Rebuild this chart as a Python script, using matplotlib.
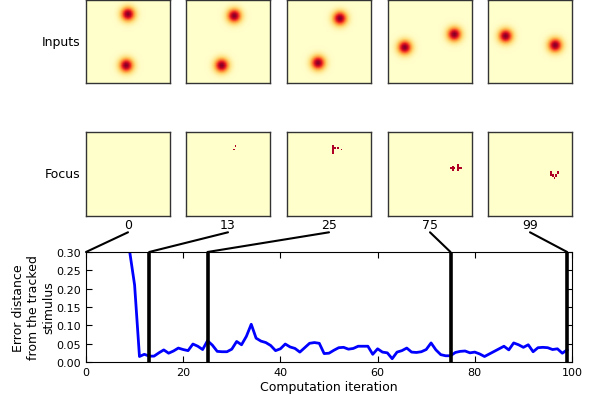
import numpy as np
import matplotlib.pyplot as plt
from matplotlib.patches import ConnectionPatch

# frames shown in the panels
frames = [0, 13, 25, 75, 99]

# blob centres (x, y) as fraction of panel, two stimuli per frame
blob_a = [(0.50, 0.18), (0.575, 0.20), (0.63, 0.23), (0.20, 0.575), (0.21, 0.44)]
blob_b = [(0.48, 0.79), (0.425, 0.79), (0.37, 0.76), (0.79, 0.42), (0.80, 0.55)]

# active focus cells (row, col) on a 50x50 grid
focus_cells = [
    [],
    [(8, 29), (10, 28)],
    [(8, 27), (9, 27), (10, 27), (11, 27), (12, 27), (9, 28), (9, 30), (10, 32)],
    [(21, 37), (21, 38), (21, 39), (20, 38), (22, 38), (19, 41), (20, 41),
     (21, 41), (22, 41), (21, 42), (21, 43)],
    [(23, 37), (24, 37), (25, 37), (25, 38), (26, 38), (27, 39), (26, 40),
     (25, 40), (24, 41), (23, 41)],
]

# error curve
iters = list(range(9, 100))
error = [0.30, 0.21, 0.015, 0.021, 0.016, 0.016, 0.025, 0.033, 0.024, 0.030,
         0.038, 0.034, 0.031, 0.049, 0.043, 0.034, 0.058, 0.046, 0.029, 0.028,
         0.028, 0.035, 0.056, 0.047, 0.070, 0.103, 0.065, 0.057, 0.053, 0.045,
         0.031, 0.036, 0.049, 0.041, 0.037, 0.027, 0.039, 0.051, 0.053, 0.051,
         0.023, 0.024, 0.032, 0.039, 0.040, 0.035, 0.037, 0.043, 0.043, 0.043,
         0.021, 0.036, 0.027, 0.025, 0.009, 0.027, 0.031, 0.038, 0.027, 0.026,
         0.028, 0.034, 0.052, 0.033, 0.020, 0.017, 0.017, 0.026, 0.029, 0.030,
         0.025, 0.027, 0.022, 0.015, 0.022, 0.029, 0.036, 0.043, 0.033, 0.052,
         0.047, 0.040, 0.047, 0.028, 0.039, 0.040, 0.039, 0.034, 0.036, 0.024,
         0.033]

N = 50
W, H = 592, 402


def px_axes(fig, left, top, w, h):
    return fig.add_axes([left / W, (H - top - h) / H, w / W, h / H])


def blob_image(c1, c2):
    yy, xx = np.mgrid[0:N, 0:N] + 0.5
    img = np.zeros((N, N))
    for cx, cy in (c1, c2):
        img += np.exp(-((xx - cx * N) ** 2 + (yy - cy * N) ** 2) / (2 * 3.0 ** 2))
    return img


def focus_image(cells):
    img = np.zeros((N, N))
    for r, c in cells:
        img[r, c] = 0.9
    return img


fig = plt.figure(figsize=(W / 100, H / 100), dpi=100)
plt.rcParams['font.family'] = 'DejaVu Sans'

lefts = [86, 186, 287, 388, 488]
focus_axes = []
for i, f in enumerate(frames):
    ax1 = px_axes(fig, lefts[i], 0.5, 84, 83.5)
    ax1.imshow(blob_image(blob_a[i], blob_b[i]), cmap='YlOrRd', vmin=0, vmax=1.0,
               interpolation='bilinear')
    ax2 = px_axes(fig, lefts[i], 133, 84, 84)
    ax2.imshow(focus_image(focus_cells[i]), cmap='YlOrRd', vmin=0, vmax=1,
               interpolation='nearest')
    for a in (ax1, ax2):
        a.set_xticks([])
        a.set_yticks([])
        for s in a.spines.values():
            s.set_color('#333333')
            s.set_linewidth(1)
    ax2.text(0.5, -0.02, str(f), transform=ax2.transAxes, ha='center', va='top',
             fontsize=9)
    if i == 0:
        ax1.set_ylabel('Inputs', rotation=0, fontsize=9, ha='right', va='center')
        ax2.set_ylabel('Focus', rotation=0, fontsize=9, ha='right', va='center')
    focus_axes.append(ax2)

ax = px_axes(fig, 86, 253, 486, 110)
ax.plot(iters, error, color='#0000ff', lw=2)
for f in frames[1:]:
    ax.axvline(f, color='black', lw=2.6)
ax.set_xlim(0, 100)
ax.set_ylim(0, 0.30)
ax.set_xticks(range(0, 101, 20))
ax.set_yticks(np.arange(0, 0.31, 0.05))
ax.set_yticklabels(['%.2f' % v for v in np.arange(0, 0.31, 0.05)])
ax.tick_params(direction='in', top=True, right=True, labelsize=8, length=4)
ax.set_xlabel('Computation iteration', fontsize=9, labelpad=2)
ax.set_ylabel('Error distance\nfrom the tracked\nstimulus', fontsize=9, labelpad=1)

for i, f in enumerate(frames):
    con = ConnectionPatch(xyA=(0.5, -0.194), coordsA=focus_axes[i].transAxes,
                          xyB=(f, 0.30), coordsB=ax.transData,
                          color='black', lw=1.5)
    fig.add_artist(con)

fig.savefig('out.png', dpi=100)
